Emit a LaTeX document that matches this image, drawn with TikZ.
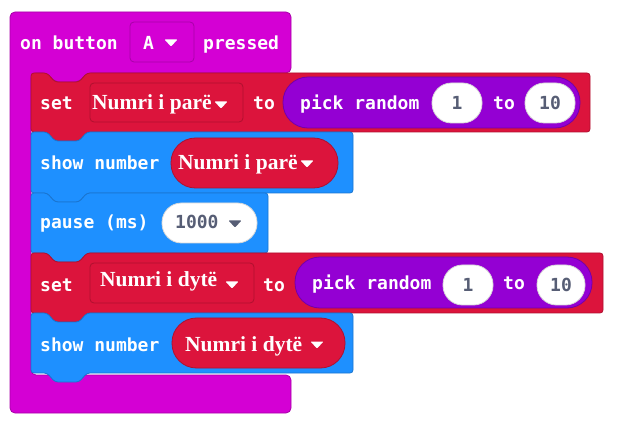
\documentclass[tikz,border=0pt]{standalone}
\usepackage{fontspec}
\newfontfamily\mcode{DejaVu Sans Mono}
\newfontfamily\lblfont{Liberation Serif}
\definecolor{hatc}{HTML}{D400D4}
\definecolor{hatb}{HTML}{A800A8}
\definecolor{varc}{HTML}{DC143C}
\definecolor{varb}{HTML}{B0102F}
\definecolor{basc}{HTML}{1E90FF}
\definecolor{basb}{HTML}{1A75D0}
\definecolor{mathc}{HTML}{9400D3}
\definecolor{mathb}{HTML}{7400A8}
\definecolor{numt}{HTML}{575E75}
\newcommand\stmtblock[5]{%
  \path[fill=#4, draw=#5, line width=0.8pt, rounded corners=3pt]
    (31,#1) -- (47,#1) -- (55,#1+9) -- (79,#1+9) -- (87,#1) -- (#3,#1)
    -- (#3,#2) -- (87,#2) -- (79,#2+9) -- (55,#2+9) -- (47,#2) -- (31,#2) -- cycle;}
\newcommand\ddtri[3]{%
  \fill[#3, rounded corners=0.8pt] (#1-6.5,#2-3.5) -- (#1+6.5,#2-3.5) -- (#1,#2+3.5) -- cycle;}
\tikzset{
  txt/.style={font=\mcode\bfseries\fontsize{18}{18}\selectfont, text=white, inner sep=0pt, anchor=base west},
  lbl/.style={font=\lblfont\bfseries\fontsize{21.5}{22}\selectfont, text=white, inner sep=0pt, anchor=base west},
  num/.style={font=\mcode\bfseries\fontsize{18}{18}\selectfont, text=numt, inner sep=0pt, anchor=base},
  field/.style={rectangle, inner sep=0pt, line width=0.8pt},
}
\begin{document}
\begin{tikzpicture}[x=1pt, y=-1pt]
\useasboundingbox (0,0) rectangle (643,422);
% hat block (C shape)
\path[fill=hatc, draw=hatb, line width=0.8pt, rounded corners=5pt]
  (150,12) -- (291,12) -- (291,73) -- (87,73) -- (79,82) -- (55,82) -- (47,73)
  -- (31,73) -- (31,375) -- (291,375) -- (291,413) -- (10,413) -- (10,12) -- cycle;
% statement blocks
\stmtblock{73}{132}{590}{varc}{varb}
\stmtblock{132}{193}{353}{basc}{basb}
\stmtblock{193}{253}{268}{basc}{basb}
\stmtblock{253}{313}{603}{varc}{varb}
\stmtblock{313}{373}{353}{basc}{basb}

% hat contents
\node[txt] (onbtn) at (20,50) {on button};
\node[field, fill=hatc, draw=hatb, rounded corners=4pt, minimum width=64pt, minimum height=40pt] (boxA) at (162,42) {};
\node[txt] (lblA) at (143,50) {A};
\ddtri{171}{43}{white}
\node[txt] (pressed) at (203,50) {pressed};

% set 1
\node[txt] (set1) at (40,110) {set};
\node[field, fill=varc, draw=varb, rounded corners=4pt, minimum width=153pt, minimum height=39pt] (box1) at (166.5,102.5) {};
\node[lbl] (var1) at (92,110) {Numri i parë};
\ddtri{221}{105}{white}
\node[txt] (to1) at (253,110) {to};
\node[field, fill=mathc, draw=mathb, rounded corners=25pt, minimum width=297pt, minimum height=51pt] (pr1) at (431.5,102.5) {};
\node[txt] (pick1) at (300,110) {pick random};
\node[field, fill=white, draw=black!15, rounded corners=19.5pt, minimum width=50pt, minimum height=40pt] (w1a) at (457,103) {};
\node[num] (n1a) at (457,110) {1};
\node[txt] (to1b) at (493,110) {to};
\node[field, fill=white, draw=black!15, rounded corners=19.5pt, minimum width=50pt, minimum height=40pt] (w1b) at (550,103) {};
\node[num] (n1b) at (550,110) {10};

% show number 1
\node[txt] (show1) at (40,170) {show number};
\node[field, fill=varc, draw=varb, rounded corners=24.5pt, minimum width=167pt, minimum height=50pt] (sp1) at (254.5,163) {};
\node[lbl] (var1s) at (178,170) {Numri i parë};
\ddtri{307}{164}{white}

% pause
\node[txt] (pause) at (40,229) {pause (ms)};
\node[field, fill=white, draw=black!15, rounded corners=19.5pt, minimum width=95pt, minimum height=40pt] (pp) at (209.5,223) {};
\node[num, anchor=base west] (ms) at (175,229) {1000};
\ddtri{235}{224}{numt}

% set 2
\node[txt] (set2) at (40,291) {set};
\node[field, fill=varc, draw=varb, rounded corners=4pt, minimum width=164pt, minimum height=40pt] (box2) at (172,283) {};
\node[lbl] (var2) at (100,287) {Numri i dytë};
\ddtri{232}{285}{white}
\node[txt] (to2) at (263,291) {to};
\node[field, fill=mathc, draw=mathb, rounded corners=25pt, minimum width=297pt, minimum height=51pt] (pr2) at (443.5,282.5) {};
\node[txt] (pick2) at (312,290) {pick random};
\node[field, fill=white, draw=black!15, rounded corners=19.5pt, minimum width=50pt, minimum height=40pt] (w2a) at (468,285) {};
\node[num] (n2a) at (468,291) {1};
\node[txt] (to2b) at (503,290) {to};
\node[field, fill=white, draw=black!15, rounded corners=19.5pt, minimum width=48pt, minimum height=40pt] (w2b) at (561,285) {};
\node[num] (n2b) at (561,291) {10};

% show number 2
\node[txt] (show2) at (40,351) {show number};
\node[field, fill=varc, draw=varb, rounded corners=24.5pt, minimum width=173pt, minimum height=50pt] (sp2) at (258.5,343) {};
\node[lbl] (var2s) at (185,351) {Numri i dytë};
\ddtri{317}{345}{white}
\end{tikzpicture}
\end{document}
